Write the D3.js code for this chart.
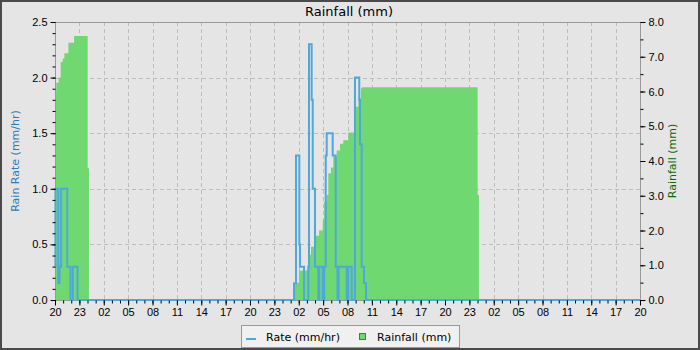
<!DOCTYPE html>
<html>
<head>
<meta charset="utf-8">
<script src="https://cdn.jsdelivr.net/npm/d3@7"></script>
<style>
  body { margin: 0; background: #e5e5e5; }
  svg { display: block; font-family: "DejaVu Sans", sans-serif; }
</style>
</head>
<body>
<div id="chart"></div>
<script>
// hours since 20:00 on the first day, step values
var rainHours = [0, 0.15, 0.45, 0.7, 0.95, 1.15, 1.65, 2.35, 4.02, 4.18,
                 29.48, 30.03, 31.14, 31.5, 31.94, 32.5, 32.95, 33.14, 33.44, 33.64,
                 33.97, 34.25, 34.67, 35.08, 35.48, 36.1, 36.92, 37.33, 37.66, 37.78,
                 52.02, 52.18];
var rainValues = [6.0, 6.25, 6.4, 6.85, 6.95, 7.1, 7.4, 7.6, 3.8, 0,
                  0.5, 0.85, 1.3, 1.53, 1.85, 2.0, 2.3, 2.83, 3.02, 3.65,
                  3.81, 4.12, 4.3, 4.5, 4.6, 4.82, 5.56, 5.8, 6.09, 6.12,
                  3.02, 0];

var rateHours = [0, 0.05, 0.4, 0.55, 0.75, 1.51, 1.9, 2.2, 2.77,
                 29.42, 29.66, 30.07, 30.15, 30.65, 31.18, 31.26, 31.59, 31.72, 32.0,
                 32.41, 32.53, 32.95, 33.14, 33.32, 33.44, 34.18, 34.55, 34.77, 34.9,
                 35.9, 36.1, 36.52, 36.92, 37.45, 37.54, 37.75, 38.03, 38.28, 72];
var rateValues = [0.3, 1.0, 0.15, 0.3, 1.0, 0.3, 0, 0.3, 0,
                  0.15, 1.3, 0.5, 0.3, 0, 0.3, 2.3, 1.8, 1.0, 0.3,
                  0, 0.3, 0, 0.3, 1.3, 1.5, 1.3, 0.3, 0, 0.3,
                  0, 0.3, 0, 2.0, 1.8, 1.4, 0.3, 0.15, 0, 0];

var hourLabels = ['20', '23', '02', '05', '08', '11', '14', '17'];
var rateTicks = [0, 0.5, 1.0, 1.5, 2.0, 2.5];
var rainTicks = [0, 1, 2, 3, 4, 5, 6, 7, 8];

(function()
{
  var W = 700, H = 350;
  var plotLeft = 55, plotRight = 640, plotTop = 22, plotBottom = 300;

  var svg = d3.select('#chart').append('svg')
    .attr('width', W).attr('height', H);

  svg.append('rect')
    .attr('x', 1).attr('y', 1).attr('width', W - 2).attr('height', H - 2)
    .attr('fill', '#e5e5e5').attr('stroke', '#4a4a4a').attr('stroke-width', 2);

  var x = d3.scaleLinear().domain([0, 72]).range([plotLeft, plotRight]);
  var yRate = d3.scaleLinear().domain([0, 2.5]).range([plotBottom, plotTop]);
  var yRain = d3.scaleLinear().domain([0, 8]).range([plotBottom, plotTop]);

  // grid
  var grid = svg.append('g')
    .attr('stroke', '#bdbdbd').attr('stroke-dasharray', '4,3').attr('stroke-width', 1);
  grid.selectAll('line.v')
    .data(d3.range(3, 72, 3))
    .enter().append('line')
      .attr('x1', function(d) { return Math.round(x(d)) + 0.5; })
      .attr('x2', function(d) { return Math.round(x(d)) + 0.5; })
      .attr('y1', plotTop).attr('y2', plotBottom);
  grid.selectAll('line.h')
    .data(rateTicks.slice(1, -1))
    .enter().append('line')
      .attr('x1', plotLeft).attr('x2', plotRight)
      .attr('y1', function(d) { return Math.round(yRate(d)) + 0.5; })
      .attr('y2', function(d) { return Math.round(yRate(d)) + 0.5; });

  // rainfall area
  var rain = rainHours.map(function(h, i) { return { h: h, v: rainValues[i] }; });
  svg.append('path')
    .datum(rain)
    .attr('fill', '#70d870')
    .attr('d', d3.area()
      .curve(d3.curveStepAfter)
      .x(function(d) { return x(d.h); })
      .y0(yRain(0))
      .y1(function(d) { return yRain(d.v); }));

  // frame
  svg.append('rect')
    .attr('x', plotLeft + 0.5).attr('y', plotTop + 0.5)
    .attr('width', plotRight - plotLeft).attr('height', plotBottom - plotTop)
    .attr('fill', 'none').attr('stroke', '#999');

  // rate line
  var rate = rateHours.map(function(h, i) { return { h: h, v: rateValues[i] }; });
  svg.append('path')
    .datum(rate)
    .attr('fill', 'none')
    .attr('stroke', '#4ea8dc')
    .attr('stroke-width', 2)
    .attr('d', d3.line()
      .curve(d3.curveStepAfter)
      .x(function(d) { return x(d.h); })
      .y(function(d) { return yRate(d.v); }));

  // axes
  function styleAxis(g)
  {
    g.select('.domain').remove();
    g.selectAll('text').attr('fill', '#000').style('font-size', '11px');
    g.selectAll('line').attr('stroke', '#000');
  }

  svg.append('g')
    .attr('transform', 'translate(0,' + (plotBottom + 0.5) + ')')
    .call(d3.axisBottom(x).tickValues(d3.range(0, 73, 1)).tickSize(3).tickFormat(''))
    .call(styleAxis);
  svg.append('g')
    .attr('transform', 'translate(0,' + (plotBottom + 0.5) + ')')
    .call(d3.axisBottom(x).tickValues(d3.range(0, 73, 3)).tickSize(5).tickPadding(3)
      .tickFormat(function(d, i) { return hourLabels[i % 8]; }))
    .call(styleAxis);

  svg.append('g')
    .attr('transform', 'translate(' + (plotLeft + 0.5) + ',0)')
    .call(d3.axisLeft(yRate).tickValues(d3.range(0, 26, 1).map(function(d) { return d / 10; }))
      .tickSize(3).tickFormat(''))
    .call(styleAxis);
  svg.append('g')
    .attr('transform', 'translate(' + (plotLeft + 0.5) + ',0)')
    .call(d3.axisLeft(yRate).tickValues(rateTicks).tickSize(5).tickPadding(3)
      .tickFormat(d3.format('.1f')))
    .call(styleAxis);

  svg.append('g')
    .attr('transform', 'translate(' + (plotRight + 0.5) + ',0)')
    .call(d3.axisRight(yRain).tickValues(d3.range(0, 17, 1).map(function(d) { return d / 2; }))
      .tickSize(3).tickFormat(''))
    .call(styleAxis);
  svg.append('g')
    .attr('transform', 'translate(' + (plotRight + 0.5) + ',0)')
    .call(d3.axisRight(yRain).tickValues(rainTicks).tickSize(5).tickPadding(3)
      .tickFormat(d3.format('.1f')))
    .call(styleAxis);

  // titles
  svg.append('text')
    .attr('x', 349).attr('y', 16)
    .attr('text-anchor', 'middle')
    .style('font-size', '13px')
    .text('Rainfall (mm)');

  svg.append('text')
    .attr('transform', 'translate(19,' + ((plotTop + plotBottom) / 2) + ') rotate(-90)')
    .attr('text-anchor', 'middle')
    .attr('fill', '#2c7bb6')
    .style('font-size', '11px')
    .text('Rain Rate (mm/hr)');

  svg.append('text')
    .attr('transform', 'translate(676,' + ((plotTop + plotBottom) / 2) + ') rotate(-90)')
    .attr('text-anchor', 'middle')
    .attr('fill', '#0a6a0a')
    .style('font-size', '11px')
    .text('Rainfall (mm)');

  // legend
  var legend = svg.append('g');
  legend.append('rect')
    .attr('x', 241.5).attr('y', 325.5).attr('width', 218).attr('height', 22)
    .attr('fill', '#f0f0f0').attr('stroke', '#999');
  legend.append('line')
    .attr('x1', 246).attr('x2', 256).attr('y1', 339).attr('y2', 339)
    .attr('stroke', '#4ea8dc').attr('stroke-width', 2);
  legend.append('text')
    .attr('x', 266).attr('y', 341).style('font-size', '11px')
    .text('Rate (mm/hr)');
  legend.append('rect')
    .attr('x', 359.5).attr('y', 333.5).attr('width', 6).attr('height', 6)
    .attr('fill', '#70d870').attr('stroke', '#666');
  legend.append('text')
    .attr('x', 377).attr('y', 341).style('font-size', '11px')
    .text('Rainfall (mm)');
})();
</script>
</body>
</html>
